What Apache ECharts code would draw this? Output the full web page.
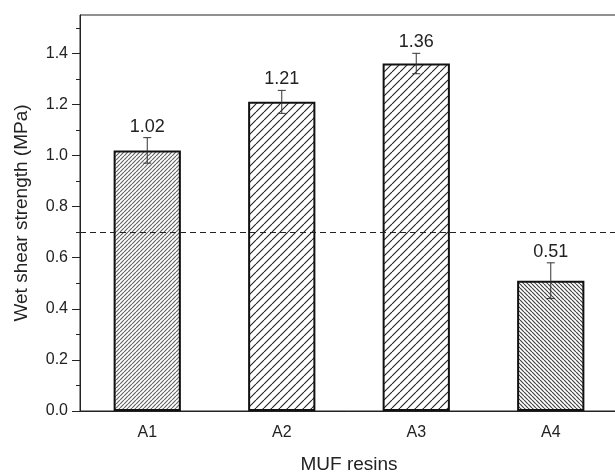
<!DOCTYPE html>
<html>
<head>
<meta charset="utf-8">
<script src="https://cdn.jsdelivr.net/npm/echarts@6/dist/echarts.min.js"></script>
<style>
html,body{margin:0;padding:0;background:#fff;}
#chart{width:615px;height:472px;}
</style>
</head>
<body>
<div id="chart"></div>
<script>
// ---- data ----
var categories = ['A1', 'A2', 'A3', 'A4'];
var values = [1.02, 1.21, 1.36, 0.51];
var errors = [0.05, 0.045, 0.04, 0.07];
var valueLabels = ['1.02', '1.21', '1.36', '0.51'];
var yMajorTicks = [0, 0.2, 0.4, 0.6, 0.8, 1.0, 1.2, 1.4];
var yMinorTicks = [0.1, 0.3, 0.5, 0.7, 0.9, 1.1, 1.3, 1.5];
var referenceLine = 0.7;
var yMax = 1.55;

// ---- hatch patterns (style only) ----
function hatch(period, lineWidth, color, dir) {
  var c = document.createElement('canvas');
  c.width = period; c.height = period;
  var ctx = c.getContext('2d');
  ctx.fillStyle = '#fff';
  ctx.fillRect(0, 0, period, period);
  ctx.strokeStyle = color;
  ctx.lineWidth = lineWidth;
  ctx.beginPath();
  for (var k = -1; k <= 1; k++) {
    if (dir === '/') {
      ctx.moveTo(k * period, period);
      ctx.lineTo(k * period + period, 0);
    } else {
      ctx.moveTo(k * period, 0);
      ctx.lineTo(k * period + period, period);
    }
  }
  ctx.stroke();
  return { image: c, repeat: 'repeat' };
}
var patterns = [
  hatch(4, 1.2, '#666', '/'),
  hatch(8, 1.1, '#222', '/'),
  hatch(8, 1.1, '#222', '/'),
  hatch(4, 1.2, '#444', '\\')
];

var font = '"Liberation Sans", Arial, sans-serif';
var axisColor = '#222';

var chart = echarts.init(document.getElementById('chart'), null, { renderer: 'canvas' });
var option = {
  backgroundColor: '#fff',
  animation: false,
  grid: {
    left: 80, top: 15, right: -3, bottom: 61,
    outerBoundsMode: 'none',
    containLabel: false,
    show: true, borderColor: axisColor, borderWidth: 1, backgroundColor: 'transparent'
  },
  xAxis: [{
    type: 'category',
    data: categories,
    boundaryGap: true,
    name: 'MUF resins',
    nameLocation: 'middle',
    nameGap: 44,
    nameTextStyle: { fontFamily: font, fontSize: 19, color: axisColor },
    axisLine: { lineStyle: { color: axisColor, width: 1 } },
    axisTick: { alignWithLabel: true, length: 6, lineStyle: { color: axisColor } },
    axisLabel: { fontFamily: font, fontSize: 16, color: axisColor, margin: 14 },
    splitLine: { show: false }
  }, {
    type: 'category',
    data: categories,
    boundaryGap: true,
    position: 'bottom',
    axisLine: { show: false },
    axisTick: { alignWithLabel: false, length: 4, lineStyle: { color: axisColor } },
    axisLabel: { show: false },
    splitLine: { show: false }
  }],
  yAxis: [{
    type: 'value',
    min: 0, max: yMax, interval: 0.2,
    name: 'Wet shear strength (MPa)',
    nameLocation: 'middle',
    nameGap: 49,
    nameTextStyle: { fontFamily: font, fontSize: 19, color: axisColor },
    axisLine: { show: true, lineStyle: { color: axisColor, width: 1 } },
    axisTick: { show: true, length: 8, customValues: yMajorTicks, lineStyle: { color: axisColor } },
    axisLabel: {
      fontFamily: font, fontSize: 16, color: axisColor, margin: 12,
      customValues: yMajorTicks,
      formatter: function (v) { return v.toFixed(1); }
    },
    splitLine: { show: false }
  }, {
    type: 'value',
    min: 0, max: yMax, interval: 0.2,
    position: 'left',
    axisLine: { show: false },
    axisTick: { show: true, length: 4, customValues: yMinorTicks, lineStyle: { color: axisColor } },
    axisLabel: { show: false },
    splitLine: { show: false }
  }],
  series: [{
    type: 'bar',
    xAxisIndex: 0,
    yAxisIndex: 0,
    barWidth: '50%',
    data: values.map(function (v, i) {
      return { value: v, itemStyle: { color: patterns[i] } };
    }),
    itemStyle: { borderColor: '#111', borderWidth: 2 },
    markLine: {
      silent: true,
      symbol: 'none',
      label: { show: false },
      lineStyle: { color: '#222', type: [6, 4], width: 1 },
      data: [{ yAxis: referenceLine }]
    },
    z: 2
  }, {
    type: 'custom',
    xAxisIndex: 0,
    yAxisIndex: 0,
    data: values.map(function (v, i) { return [i, v, errors[i]]; }),
    renderItem: function (params, api) {
      var i = api.value(0);
      var v = api.value(1);
      var e = api.value(2);
      var top = api.coord([i, v + e]);
      var bot = api.coord([i, v - e]);
      var cap = 4;
      var style = { stroke: '#333', lineWidth: 1 };
      return {
        type: 'group',
        children: [
          { type: 'line', shape: { x1: top[0], y1: top[1], x2: bot[0], y2: bot[1] }, style: style },
          { type: 'line', shape: { x1: top[0] - cap, y1: top[1], x2: top[0] + cap, y2: top[1] }, style: style },
          { type: 'line', shape: { x1: bot[0] - cap, y1: bot[1], x2: bot[0] + cap, y2: bot[1] }, style: style },
          {
            type: 'text',
            x: top[0], y: top[1] - 2,
            style: {
              text: valueLabels[params.dataIndex],
              fontFamily: font, fontSize: 18, fill: '#222',
              align: 'center', verticalAlign: 'bottom'
            }
          }
        ]
      };
    },
    z: 5
  }]
};
chart.setOption(option);
</script>
</body>
</html>
